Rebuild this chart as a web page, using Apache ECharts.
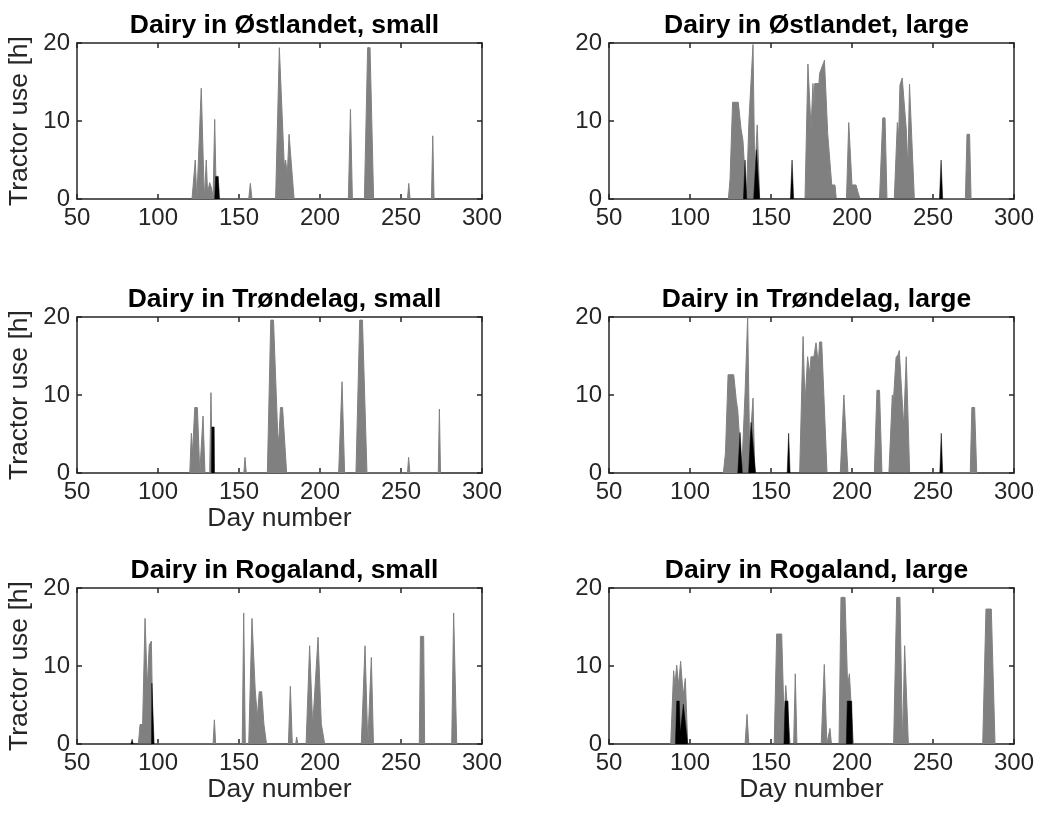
<!DOCTYPE html>
<html>
<head>
<meta charset="utf-8">
<title>Tractor use</title>
<script src="https://cdn.jsdelivr.net/npm/echarts@6/dist/echarts.min.js"></script>
<style>
  html, body { margin: 0; padding: 0; background: #fff; }
  #chart { width: 1037px; height: 821px; }
</style>
</head>
<body>
<div id="chart"></div>
<script>
// panel titles, axis names
var titles = [
  'Dairy in Østlandet, small', 'Dairy in Østlandet, large',
  'Dairy in Trøndelag, small', 'Dairy in Trøndelag, large',
  'Dairy in Rogaland, small', 'Dairy in Rogaland, large'
];
var xName = 'Day number';
var yName = 'Tractor use [h]';

// [day, hours]
var ostSmallGray = [
  [121, 0], [123, 5], [124, 0], [125, 0], [126.7, 14.2], [128.6, 0], [129, 0], [129.8, 5], [130.6, 0.8],
  [131.9, 2.1], [133, 1.4], [134, 0.3], [135, 10.2], [136, 0], [156, 0], [157, 2], [158, 0],
  [172.6, 0], [174.9, 19.4], [176.1, 19.4], [178, 4], [178.8, 5], [179.8, 3], [180.9, 8.3], [182.1, 8.3], [184, 0],
  [217.5, 0], [218.8, 11.5], [220, 0], [227.4, 0], [229.4, 19.4], [230.9, 19.4], [233.1, 0],
  [254, 0], [254.8, 2], [255.6, 0], [268.8, 0], [269.6, 8.1], [270.4, 0]
];
var ostSmallBlack = [[135, 0], [135.6, 2.9], [137.2, 2.9], [138, 0]];

var ostLargeGray = [
  [123.7, 0], [124.7, 2.5], [125.2, 2.5], [126.3, 12.4], [129.8, 12.4], [131.5, 9], [132.7, 7.5], [134.8, 0],
  [136.4, 10.1], [138.9, 19.8], [140, 3], [141.5, 9.5], [142, 9.5], [143, 0],
  [171, 0], [172.8, 17.3], [174.7, 9], [175.9, 14.8], [176.5, 12], [177, 14.8], [179.6, 14.8], [180, 16.1],
  [182.5, 17.5], [183, 17.8], [185, 8.4], [187.5, 1.8], [189.5, 1.8], [190.3, 0],
  [196.6, 0], [198, 9.8], [200, 1.8], [202.5, 1.8], [203.5, 1], [205, 0],
  [217, 0], [219, 10.4], [220.4, 10.4], [221.6, 0],
  [226.1, 0], [228, 9.8], [228.8, 8], [229.6, 14.6], [231, 15.5], [232, 15.5], [233.5, 9], [234.5, 4],
  [235.5, 14.7], [236.4, 14.7], [238.5, 0],
  [270, 0], [271, 8.3], [272.6, 8.3], [273.5, 0]
];
var ostLargeBlack = [
  [133, 0], [134, 5], [135, 0], [139.3, 0], [141, 6.3], [143, 0],
  [162, 0], [163, 5], [164, 0], [254, 0], [255, 5], [256, 0]
];

var troSmallGray = [
  [119.6, 0], [120.6, 5.1], [121.3, 2.5], [122.7, 8.4], [124.3, 8.4], [125.8, 0],
  [126.6, 0], [127.8, 7.3], [129, 0], [131.9, 0], [132.7, 10.3], [133.5, 0],
  [153, 0], [153.7, 2], [154.5, 0],
  [167.5, 0], [169.6, 19.6], [171.3, 19.6], [173.9, 5], [174.5, 4], [175.6, 8.4], [176.9, 8.4], [179.4, 0],
  [211.5, 0], [213.6, 11.7], [215.2, 0], [222.2, 0], [224.5, 19.6], [226.2, 19.6], [229, 0],
  [254, 0], [254.7, 2], [255.5, 0], [273, 0], [273.7, 8.2], [274.4, 0]
];
var troSmallBlack = [[133, 0], [133.2, 5.9], [134.7, 5.9], [134.9, 0]];

var troLargeGray = [
  [120.6, 0], [121.9, 2.6], [122.3, 2.6], [123.5, 12.6], [127, 12.6], [128.6, 9.3], [129.5, 8], [131.9, 0],
  [134, 10.3], [135.6, 20], [136.8, 3], [138.9, 9.6], [140, 0],
  [167.7, 0], [169.8, 17.5], [171, 9], [172.6, 14.9], [173.9, 12.7], [174.7, 14.9], [176.5, 14.9],
  [177.8, 16.7], [178.5, 16.7], [179.2, 14], [180, 16.8], [181.3, 16.8], [184.6, 0],
  [192.8, 0], [195, 10], [197.5, 0],
  [213.8, 0], [215.4, 10.6], [217, 10.6], [218.5, 0],
  [222.8, 0], [224.9, 10], [225.5, 9], [227.2, 14.8], [228.5, 15.2], [229.2, 15.7], [230.2, 15.7],
  [231.9, 6], [233.5, 14.9], [234.4, 14.9], [235.6, 0],
  [273, 0], [274, 8.4], [275.7, 8.4], [277, 0]
];
var troLargeBlack = [
  [129.5, 0], [130.9, 5.2], [132.3, 0], [136.2, 0], [137.7, 6.5], [140.5, 0],
  [160, 0], [160.9, 5.1], [161.8, 0], [254.2, 0], [255.1, 5.1], [256, 0]
];

var rogSmallGray = [
  [87.9, 0], [88.9, 2.5], [90.5, 2.5], [92, 16.1], [93.4, 7.3], [94.6, 12.7], [95.9, 13.2], [97, 0],
  [134, 0], [134.8, 3.1], [135.6, 0],
  [152, 0], [152.9, 16.8], [153.9, 0], [156, 0], [158, 16.1], [160, 7], [161.3, 3.5], [162.5, 6.7],
  [164, 6.7], [165.4, 2.5], [167, 0],
  [180.5, 0], [181.7, 7.4], [182.9, 0], [185, 0], [185.6, 0.9], [186.3, 0],
  [191.4, 0], [193.6, 12.6], [195.5, 2.3], [196.5, 2.3], [198.8, 13.7], [200.8, 2.6], [202, 2.6], [202.9, 0],
  [225.5, 0], [227.8, 12.6], [229.5, 0], [230.5, 0], [231.7, 11.1], [233, 0],
  [261.3, 0], [262, 13.8], [264, 13.8], [264.6, 0],
  [281.3, 0], [282.5, 16.8], [284.4, 0]
];
var rogSmallBlack = [[83.3, 0], [84, 0.6], [84.7, 0], [96, 0], [96.2, 7.8], [97.3, 7.8], [97.6, 0]];

var rogLargeGray = [
  [88.1, 0], [89.9, 9.4], [90.7, 7.5], [91.8, 10.1], [93, 7.5], [94.2, 10.6], [95.8, 6.2], [97.1, 8.4], [98.6, 0],
  [134, 0], [135.2, 3.8], [136.3, 0],
  [152, 0], [153.5, 14.1], [156.6, 14.1], [158.1, 3], [159.1, 7.5], [160.3, 7.5], [161.8, 0],
  [164, 0], [165, 9], [166, 0],
  [181, 0], [182.9, 10.2], [184.5, 0], [185.5, 0], [186.4, 2], [187.3, 0],
  [192, 0], [193.2, 18.8], [195.7, 18.8], [197.3, 7.5], [198.4, 9], [200.8, 0],
  [225.7, 0], [227.6, 18.8], [229.6, 18.8], [231.2, 0], [232.5, 12.6], [234.8, 0],
  [280.7, 0], [282.7, 17.3], [286, 17.3], [288.3, 0]
];
var rogLargeBlack = [
  [91, 0], [91.8, 5.5], [93.4, 5.5], [94, 1.5], [95.9, 5.1], [97.1, 5.3], [98.6, 0],
  [158, 0], [158.7, 5.5], [160.5, 5.5], [161.3, 0],
  [196.5, 0], [197.1, 5.5], [199.8, 5.5], [200.4, 0]
];

var grayData = [ostSmallGray, ostLargeGray, troSmallGray, troLargeGray, rogSmallGray, rogLargeGray];
var blackData = [ostSmallBlack, ostLargeBlack, troSmallBlack, troLargeBlack, rogSmallBlack, rogLargeBlack];

var font = "'Liberation Sans', Arial, Helvetica, sans-serif";
var axisColor = '#262626';
var lefts = [77, 609];
var tops = [43, 317, 588];
var plotW = 405, plotH = 156;

var grid = [], xAxis = [], yAxis = [], series = [], title = [];

for (var i = 0; i < 6; i++) {
  var col = i % 2, row = Math.floor(i / 2);
  grid.push({ left: lefts[col], top: tops[row], width: plotW, height: plotH, containLabel: false });

  title.push({
    text: titles[i],
    left: lefts[col] + plotW / 2,
    top: tops[row] - 36,
    textAlign: 'center',
    textStyle: { fontFamily: font, fontSize: 26.5, fontWeight: 'bold', color: '#000' }
  });

  var showXName = (row == 1 && col == 0) || row == 2;
  var line = { show: true, onZero: false, lineStyle: { color: axisColor, width: 1.5 } };
  var tick = { show: true, inside: true, length: 5, lineStyle: { color: axisColor, width: 1.5 } };

  xAxis.push({
    gridIndex: i, type: 'value', min: 50, max: 300, interval: 50, position: 'bottom',
    name: showXName ? xName : '', nameLocation: 'middle', nameGap: 31,
    nameTextStyle: { fontFamily: font, fontSize: 26.5, color: '#262626' },
    axisLine: line, axisTick: tick, splitLine: { show: false },
    axisLabel: { fontFamily: font, fontSize: 24, color: '#262626', margin: 7 }
  });
  xAxis.push({
    gridIndex: i, type: 'value', min: 50, max: 300, interval: 50, position: 'top',
    axisLine: line, axisTick: tick, splitLine: { show: false }, axisLabel: { show: false }
  });
  yAxis.push({
    gridIndex: i, type: 'value', min: 0, max: 20, interval: 10, position: 'left',
    name: col == 0 ? yName : '', nameLocation: 'middle', nameGap: 44,
    nameTextStyle: { fontFamily: font, fontSize: 26.5, color: '#262626' },
    axisLine: line, axisTick: tick, splitLine: { show: false },
    axisLabel: { fontFamily: font, fontSize: 24, color: '#262626', margin: 7 }
  });
  yAxis.push({
    gridIndex: i, type: 'value', min: 0, max: 20, interval: 10, position: 'right',
    axisLine: line, axisTick: tick, splitLine: { show: false }, axisLabel: { show: false }
  });

  series.push({
    type: 'line', xAxisIndex: 2 * i, yAxisIndex: 2 * i, data: grayData[i],
    showSymbol: false, symbol: 'none', z: 2,
    lineStyle: { color: '#808080', width: 1 },
    areaStyle: { color: '#808080', opacity: 1 }
  });
  series.push({
    type: 'line', xAxisIndex: 2 * i, yAxisIndex: 2 * i, data: blackData[i],
    showSymbol: false, symbol: 'none', z: 3,
    lineStyle: { color: '#000', width: 0.5 },
    areaStyle: { color: '#000', opacity: 1 }
  });
}

var chart = echarts.init(document.getElementById('chart'));
chart.setOption({
  animation: false,
  backgroundColor: '#fff',
  title: title,
  grid: grid,
  xAxis: xAxis,
  yAxis: yAxis,
  series: series
});
</script>
</body>
</html>
